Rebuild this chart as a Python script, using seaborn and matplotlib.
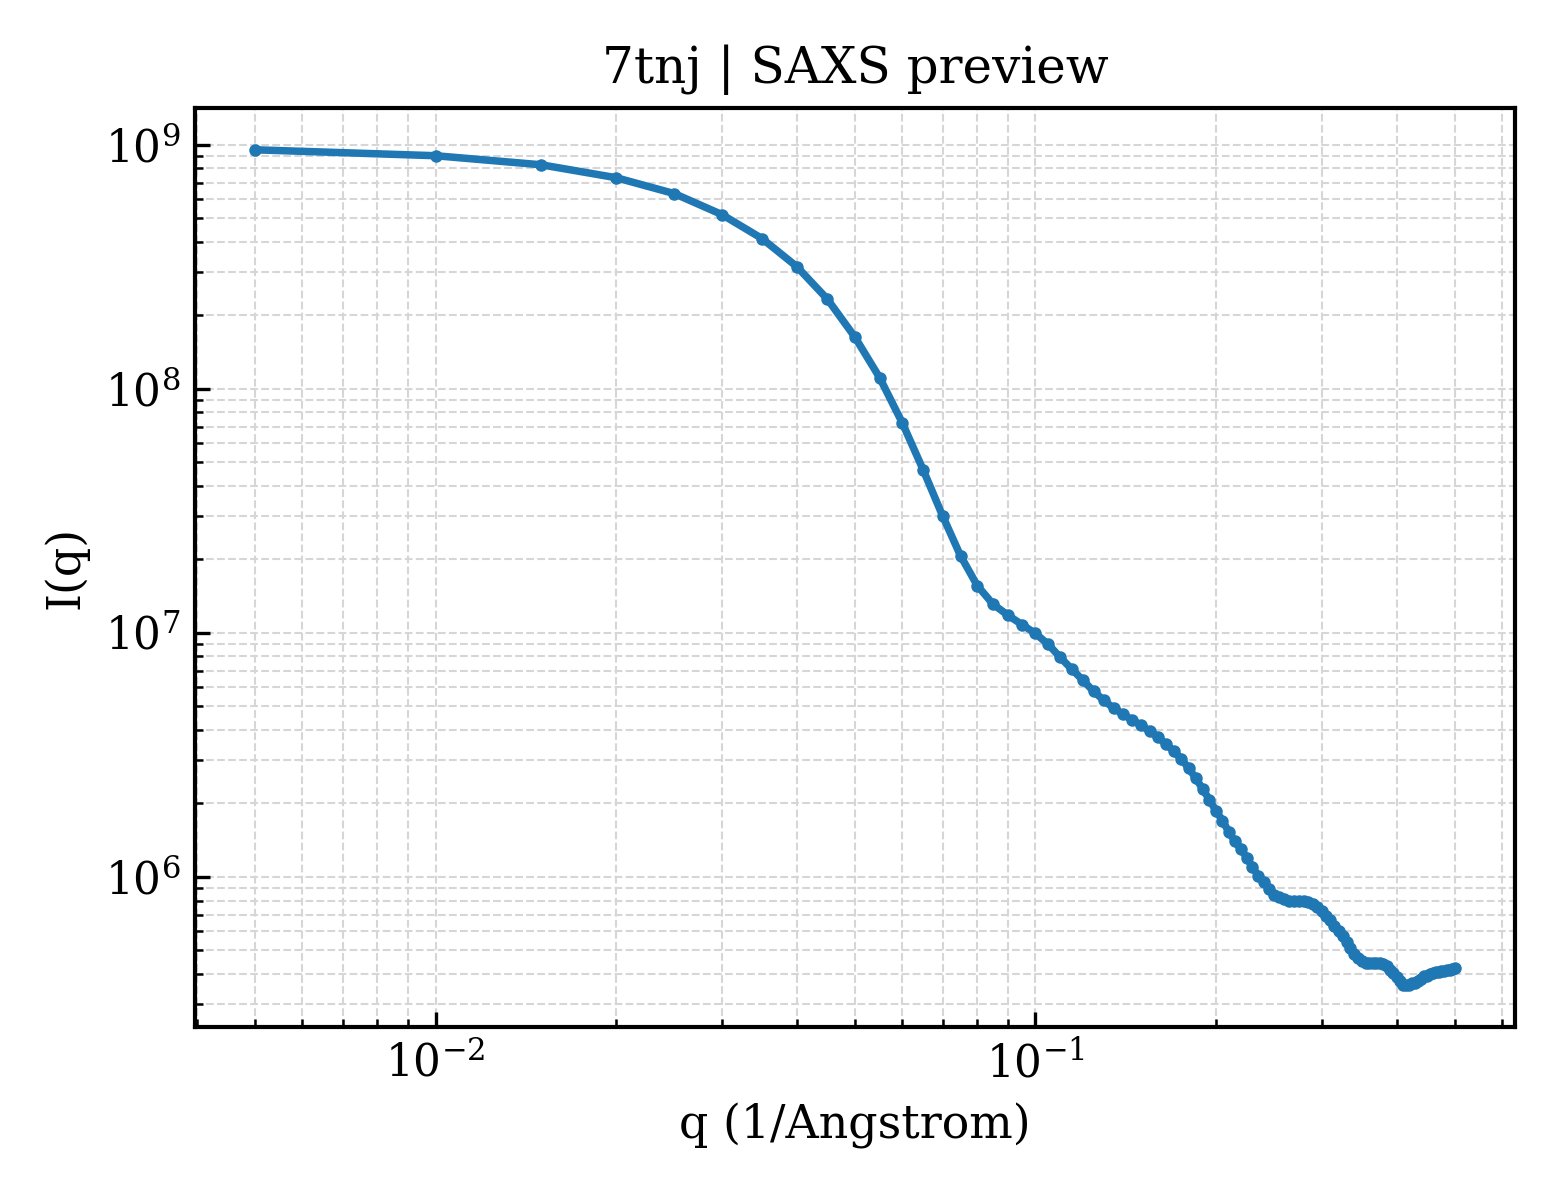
import matplotlib
matplotlib.use("Agg")
import matplotlib.pyplot as plt
import seaborn as sns
import pandas as pd

# q grid (1/Angstrom) and intensities
q_values = [
    0.005, 0.010, 0.015, 0.020, 0.025, 0.030, 0.035, 0.040, 0.045, 0.050,
    0.055, 0.060, 0.065, 0.070, 0.075, 0.080, 0.085, 0.090, 0.095, 0.100,
    0.105, 0.110, 0.115, 0.120, 0.125, 0.130, 0.135, 0.140, 0.145, 0.150,
    0.155, 0.160, 0.165, 0.170, 0.175, 0.180, 0.185, 0.190, 0.195, 0.200,
    0.205, 0.210, 0.215, 0.220, 0.225, 0.230, 0.235, 0.240, 0.245, 0.250,
    0.255, 0.260, 0.265, 0.270, 0.275, 0.280, 0.285, 0.290, 0.295, 0.300,
    0.305, 0.310, 0.315, 0.320, 0.325, 0.330, 0.335, 0.340, 0.345, 0.350,
    0.355, 0.360, 0.365, 0.370, 0.375, 0.380, 0.385, 0.390, 0.395, 0.400,
    0.405, 0.410, 0.415, 0.420, 0.425, 0.430, 0.435, 0.440, 0.445, 0.450,
    0.455, 0.460, 0.465, 0.470, 0.475, 0.480, 0.485, 0.490, 0.495, 0.500,
]
intensity = [
    9.54e8, 9.02e8, 8.28e8, 7.33e8, 6.31e8, 5.18e8, 4.13e8, 3.17e8, 2.33e8, 1.63e8,
    1.11e8, 7.24e7, 4.65e7, 3.02e7, 2.07e7, 1.56e7, 1.31e7, 1.18e7, 1.08e7, 9.94e6,
    8.97e6, 7.93e6, 7.09e6, 6.39e6, 5.76e6, 5.29e6, 4.91e6, 4.64e6, 4.39e6, 4.18e6,
    3.96e6, 3.74e6, 3.50e6, 3.28e6, 3.04e6, 2.79e6, 2.54e6, 2.29e6, 2.07e6, 1.86e6,
    1.70e6, 1.53e6, 1.40e6, 1.30e6, 1.20e6, 1.10e6, 1.01e6, 9.55e5, 8.94e5, 8.45e5,
    8.25e5, 8.14e5, 7.99e5, 7.99e5, 7.99e5, 7.95e5, 7.91e5, 7.77e5, 7.51e5, 7.27e5,
    6.93e5, 6.68e5, 6.31e5, 6.02e5, 5.74e5, 5.43e5, 5.13e5, 4.85e5, 4.67e5, 4.50e5,
    4.44e5, 4.42e5, 4.42e5, 4.42e5, 4.42e5, 4.40e5, 4.33e5, 4.17e5, 4.02e5, 3.87e5,
    3.73e5, 3.62e5, 3.59e5, 3.59e5, 3.66e5, 3.69e5, 3.76e5, 3.83e5, 3.91e5, 3.94e5,
    3.98e5, 4.02e5, 4.06e5, 4.08e5, 4.10e5, 4.13e5, 4.15e5, 4.17e5, 4.21e5, 4.25e5,
]

df = pd.DataFrame({"q": q_values, "I": intensity})

sns.set_theme(style="white")
plt.rcParams["font.family"] = ["DejaVu Serif"]
plt.rcParams["mathtext.fontset"] = "dejavuserif"
plt.rcParams["text.color"] = "black"
plt.rcParams["axes.labelcolor"] = "black"
plt.rcParams["xtick.color"] = "black"
plt.rcParams["ytick.color"] = "black"

fig, ax = plt.subplots(figsize=(5.2, 4), dpi=300)
fig.subplots_adjust(left=0.125, right=0.971, top=0.91, bottom=0.144)

sns.lineplot(data=df, x="q", y="I", ax=ax, color="#1f77b4", linewidth=1.8,
             marker="o", markersize=3, markeredgewidth=0, markeredgecolor="#1f77b4")

ax.set_xscale("log")
ax.set_yscale("log")

ax.set_title("7tnj | SAXS preview", fontsize=12, color="black")
ax.set_xlabel("q (1/Angstrom)", fontsize=11)
ax.set_ylabel("I(q)", fontsize=11)

ax.tick_params(axis="both", which="both", direction="in", labelsize=10.5,
               bottom=True, left=True, top=False, right=False,
               color="black", labelcolor="black")
ax.tick_params(which="major", length=3.5, width=0.8)
ax.tick_params(which="minor", length=2, width=0.6)

ax.grid(True, which="both", linestyle="--", linewidth=0.5, color="#d6d6d6")
for s in ax.spines.values():
    s.set_color("black")
    s.set_linewidth(1.0)

fig.savefig("out.png", dpi=300)
